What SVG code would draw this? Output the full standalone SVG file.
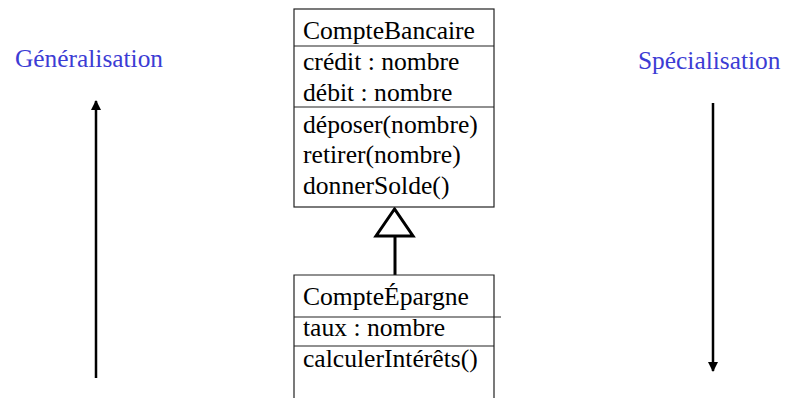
<svg xmlns="http://www.w3.org/2000/svg" width="785" height="398" viewBox="0 0 785 398">
<style>
.t{font-family:"Liberation Serif","Times New Roman",serif;font-size:25.6px;fill:#000}
.b{font-family:"Liberation Serif","Times New Roman",serif;font-size:25.4px;fill:#3c3cd4}
.box{fill:#fff;stroke:#222;stroke-width:1.2}
.div{stroke:#222;stroke-width:1.2}
.arr{stroke:#000;stroke-width:2.5;fill:none}
</style>
<defs>
<marker id="ah" viewBox="0 0 10 10" refX="9" refY="5" markerWidth="4" markerHeight="4" orient="auto" markerUnits="strokeWidth">
<path d="M0,0 L10,5 L0,10 z" fill="#000"/>
</marker>
</defs>
<g id="labels">
<text class="b" x="15" y="67">Généralisation</text>
<text class="b" x="638" y="69">Spécialisation</text>
</g>
<g id="connectors">
<line class="arr" x1="96" y1="378" x2="96" y2="101" marker-end="url(#ah)"/>
<line class="arr" x1="713" y1="103" x2="713" y2="371" marker-end="url(#ah)"/>
<line x1="395" y1="236" x2="395" y2="275" stroke="#000" stroke-width="3"/>
<polygon points="394.5,209 376,236 413,236" fill="#fff" stroke="#000" stroke-width="3"/>
</g>
<g id="CompteBancaire">
<rect class="box" x="294" y="9" width="200" height="198"/>
<line class="div" x1="294" y1="46" x2="494" y2="46"/>
<line class="div" x1="294" y1="107" x2="494" y2="107"/>
<text class="t" x="303" y="39">CompteBancaire</text>
<text class="t" x="303" y="70">crédit : nombre</text>
<text class="t" x="303" y="101">débit : nombre</text>
<text class="t" x="303" y="133">déposer(nombre)</text>
<text class="t" x="303" y="163">retirer(nombre)</text>
<text class="t" x="303" y="194">donnerSolde()</text>
</g>
<g id="CompteEpargne">
<path d="M294,399 V275 H494 V399" fill="#fff" stroke="#222" stroke-width="1.2"/>
<line class="div" x1="294" y1="317" x2="501" y2="317"/>
<line class="div" x1="294" y1="346" x2="494" y2="346"/>
<text class="t" x="303" y="305">CompteÉpargne</text>
<text class="t" x="303" y="336">taux : nombre</text>
<text class="t" x="303" y="367">calculerIntérêts()</text>
</g>
</svg>
